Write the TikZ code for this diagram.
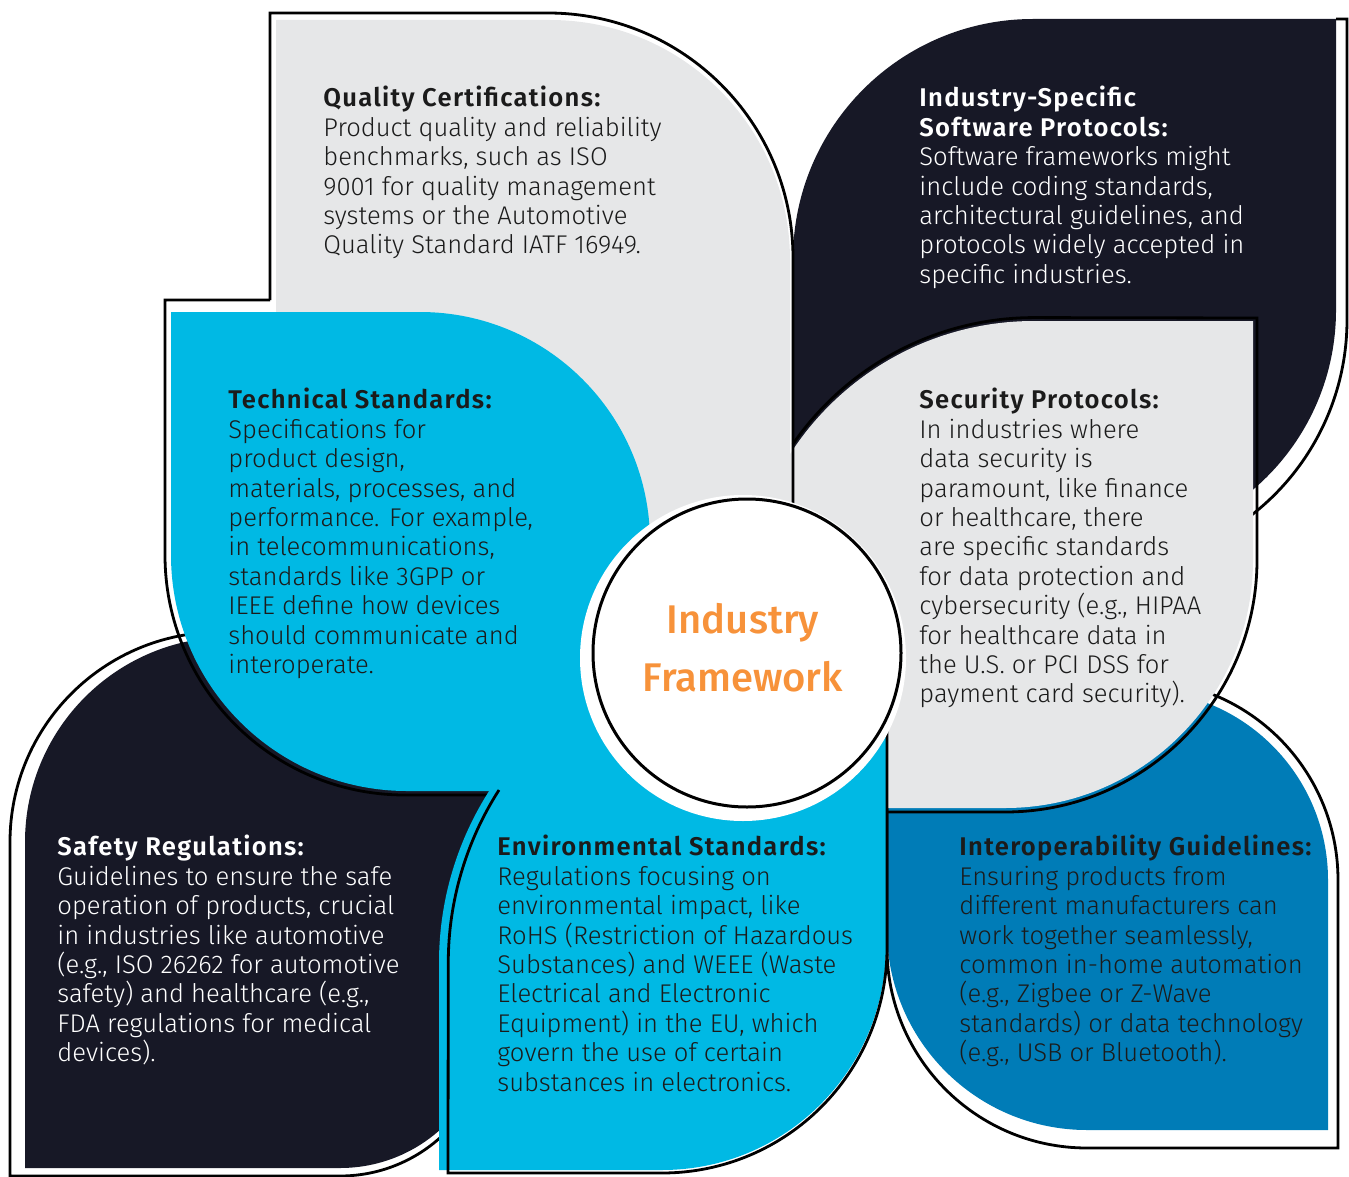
\documentclass[tikz,border=0pt]{standalone}
\usepackage{fontspec}
\setmainfont{Fira Sans Light}[BoldFont={Fira Sans SemiBold}]
\newfontfamily\hubfont{Fira Sans Medium}
\newcommand\head[1]{{\bfseries\addfontfeatures{LetterSpace=5}#1}}

\definecolor{navy}{HTML}{171826}
\definecolor{lgray}{HTML}{E6E7E8}
\definecolor{sky}{HTML}{00B9E4}
\definecolor{deepblue}{HTML}{007CB7}
\definecolor{tang}{HTML}{F7923A}
\definecolor{ink}{HTML}{1B1B1B}

\begin{document}
\begin{tikzpicture}[x=0.5pt,y=-0.5pt,
  outl/.style={draw=black,line width=1.4pt},
  blurb/.style={anchor=north west,inner sep=0pt,align=left,text=ink,
    font=\fontsize{12.8}{14.7}\selectfont},
  blurbw/.style={blurb,text=white}]
\useasboundingbox (0,0) rectangle (1349,1177);

% bottom right: interoperability
\fill[deepblue] (887,690) -- (1138,690) arc[start angle=270,end angle=360,radius=190]
  -- (1328,1130) -- (1087,1130) arc[start angle=90,end angle=180,radius=200] -- cycle;
\draw[outl] (887,680) -- (1138,680) arc[start angle=270,end angle=360,radius=200]
  -- (1338,1148) -- (1087,1148) arc[start angle=90,end angle=180,radius=200] -- cycle;

% top right: software protocols
\fill[navy] (793,620) -- (793,259) arc[start angle=180,end angle=270,radius=240]
  -- (1336,19) -- (1336,310) arc[start angle=0,end angle=90,radius=236] -- cycle;
\draw[outl] (1336,19) -- (1347,19) -- (1347,320) arc[start angle=0,end angle=75,radius=247];

% middle right: security
\fill[lgray] (744,611) arc[start angle=180,end angle=270,radius=290] -- (1253,321)
  -- (1253,560) arc[start angle=0,end angle=90,radius=248] -- (744,808) -- cycle;
\draw[outl] (793,444) arc[start angle=214.65,end angle=270,radius=293] -- (1257,318)
  -- (1257,560) arc[start angle=0,end angle=90,radius=252] -- (887,812);

% top: quality
\fill[lgray] (276,620) -- (276,20) -- (550,20) arc[start angle=270,end angle=360,radius=240]
  -- (790,620) -- cycle;
\draw[outl] (270,300) -- (270,13) -- (548,13) arc[start angle=270,end angle=360,radius=245]
  -- (793,560);

% bottom left: safety
\fill[navy] (25,1168) -- (25,842) arc[start angle=180,end angle=270,radius=205]
  -- (490,637) -- (490,1018) arc[start angle=0,end angle=90,radius=150] -- cycle;
\draw[outl] (490,632) -- (220,632) arc[start angle=270,end angle=180,radius=210]
  -- (10,1176) -- (340,1176) arc[start angle=90,end angle=0,radius=150];

% middle left: technical
\fill[sky] (171,312) -- (420,312) arc[start angle=270,end angle=360,radius=230]
  -- (650,791) -- (407,791) arc[start angle=90,end angle=180,radius=236] -- cycle;
\draw[outl] (270,300) -- (165,300) -- (165,555) arc[start angle=180,end angle=90,radius=240]
  -- (495,795);

% bottom: environmental
\fill[sky] (439,963) arc[start angle=180,end angle=270,radius=320] -- (886,643)
  -- (886,946) arc[start angle=0,end angle=90,radius=224] -- (439,1170) -- cycle;
\draw[outl] (499,790) arc[start angle=212.7,end angle=180,radius=320] -- (448,1173)
  -- (662,1173) arc[start angle=90,end angle=0,radius=225] -- (887,700);

% hub
\fill[white] (743,658) circle[radius=163];
\node[circle,draw,line width=1.5pt,fill=white,minimum size=154pt,inner sep=0pt] (hub)
  at (747,653) {};
\node[align=center,text=tang,font=\hubfont\fontsize{20}{29}\selectfont] (hubtext)
  at (743,648) {Industry\\Framework};

% texts
\node[blurb] (quality) at (323,86) {\head{Quality Certifications:}\\
  Product quality and reliability\\ benchmarks, such as ISO\\
  9001 for quality management\\ systems or the Automotive\\
  Quality Standard IATF 16949.};
\node[blurbw] (software) at (919,86) {\head{Industry-Specific}\\
  \head{Software Protocols:}\\ Software frameworks might\\
  include coding standards,\\ architectural guidelines, and\\
  protocols widely accepted in\\ specific industries.};
\node[blurb] (technical) at (228,388) {\head{Technical Standards:}\\
  Specifications for\\ product design,\\ materials, processes, and\\
  performance. For example,\\ in telecommunications,\\ standards like 3GPP or\\
  IEEE define how devices\\ should communicate and\\ interoperate.};
\node[blurb] (security) at (919,388) {\head{Security Protocols:}\\
  In industries where\\ data security is\\ paramount, like finance\\
  or healthcare, there\\ are specific standards\\ for data protection and\\
  cybersecurity (e.g., HIPAA\\ for healthcare data in\\ the U.S. or PCI DSS for\\
  payment card security).};
\node[blurbw] (safety) at (57,835) {\head{Safety Regulations:}\\
  Guidelines to ensure the safe\\ operation of products, crucial\\
  in industries like automotive\\ (e.g., ISO 26262 for automotive\\
  safety) and healthcare (e.g.,\\ FDA regulations for medical\\ devices).};
\node[blurb] (environment) at (497,835) {\head{Environmental Standards:}\\
  Regulations focusing on\\ environmental impact, like\\
  RoHS (Restriction of Hazardous\\ Substances) and WEEE (Waste\\
  Electrical and Electronic\\ Equipment) in the EU, which\\
  govern the use of certain\\ substances in electronics.};
\node[blurb] (interop) at (959,835) {\head{Interoperability Guidelines:}\\
  Ensuring products from\\ different manufacturers can\\
  work together seamlessly,\\ common in-home automation\\
  (e.g., Zigbee or Z-Wave\\ standards) or data technology\\
  (e.g., USB or Bluetooth).};
\end{tikzpicture}
\end{document}
